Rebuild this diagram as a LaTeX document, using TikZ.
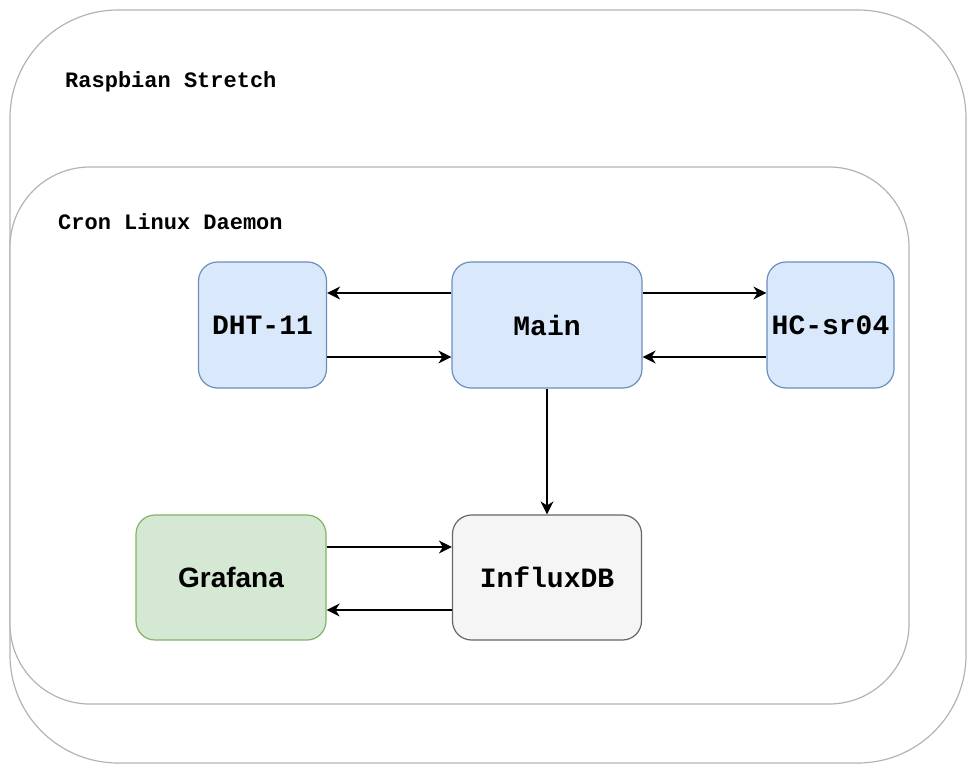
\documentclass[tikz,border=0pt]{standalone}
\usepackage{fontspec}
\setmonofont{Liberation Mono}
\newfontfamily\helv{Liberation Sans}
\usetikzlibrary{arrows.meta}
\definecolor{bluefill}{HTML}{DAE8FC}
\definecolor{bluedraw}{HTML}{6C8EBF}
\definecolor{greenfill}{HTML}{D5E8D4}
\definecolor{greendraw}{HTML}{82B366}
\definecolor{greyfill}{HTML}{F5F5F5}
\definecolor{greydraw}{HTML}{666666}
\definecolor{contdraw}{HTML}{B3B3B3}
\tikzset{
  box/.style={rectangle, rounded corners=19pt, line width=1.2pt, inner sep=0pt,
    font=\ttfamily\bfseries\fontsize{28}{30}\selectfont},
  bluebox/.style={box, fill=bluefill, draw=bluedraw},
  greenbox/.style={box, fill=greenfill, draw=greendraw, font=\helv\bfseries\fontsize{28}{30}\selectfont},
  greybox/.style={box, fill=greyfill, draw=greydraw},
  cont/.style={draw=contdraw, line width=1.2pt},
  lbl/.style={anchor=west, inner sep=0pt, font=\ttfamily\bfseries\fontsize{22}{24}\selectfont},
  arr/.style={line width=1.5pt, -{Stealth[length=13pt,width=13pt,inset=4pt]}}
}
\begin{document}
\begin{tikzpicture}[x=1pt,y=-1pt]
\useasboundingbox (0,0) rectangle (968,765);
% containers
\draw[cont, rounded corners=108pt] (10,10) rectangle (966,763);
\draw[cont, rounded corners=80pt, fill=white] (10,167) rectangle (909,704);
\node[lbl] (raspbian) at (65,82) {Raspbian Stretch};
\node[lbl] (cron) at (58,222) {Cron Linux Daemon};
% nodes
\node[bluebox, minimum width=128pt, minimum height=126pt] (dht) at (262.5,325) {DHT-11};
\node[bluebox, minimum width=190pt, minimum height=126pt] (main) at (547,325) {Main};
\node[bluebox, minimum width=127pt, minimum height=126pt] (hc) at (830.5,325) {HC-sr04};
\node[greenbox, minimum width=190pt, minimum height=125pt] (grafana) at (231,577.5) {Grafana};
\node[greybox, minimum width=189pt, minimum height=125pt] (influx) at (547,577.5) {InfluxDB};
% connectors
\draw[arr] (main.west |- 0,293) -- (dht.east |- 0,293);
\draw[arr] (dht.east |- 0,357) -- (main.west |- 0,357);
\draw[arr] (main.east |- 0,293) -- (hc.west |- 0,293);
\draw[arr] (hc.west |- 0,357) -- (main.east |- 0,357);
\draw[arr] (main.south) -- (influx.north);
\draw[arr] (grafana.east |- 0,547) -- (influx.west |- 0,547);
\draw[arr] (influx.west |- 0,610) -- (grafana.east |- 0,610);
\end{tikzpicture}
\end{document}
